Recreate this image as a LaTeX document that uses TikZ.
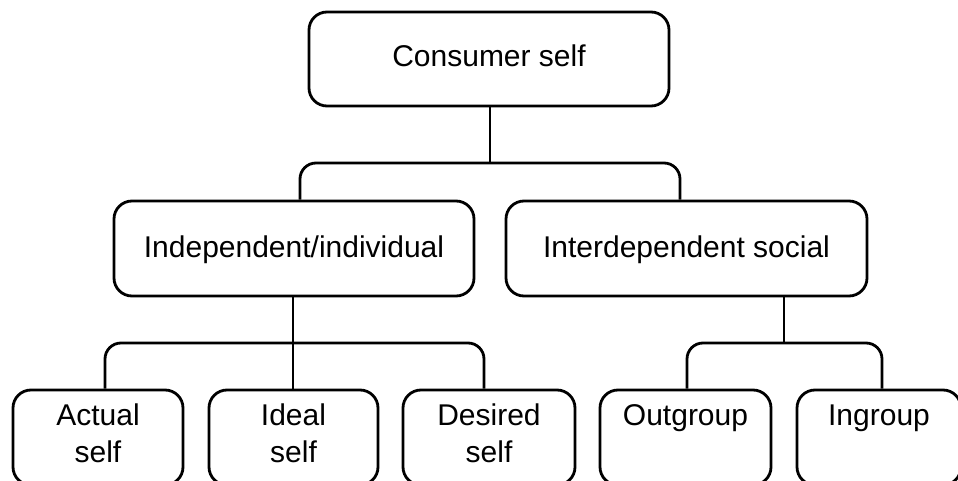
\documentclass[tikz,border=0pt]{standalone}
\usepackage{fontspec}
\setmainfont{Liberation Sans}
\begin{document}
\begin{tikzpicture}[
  x=1pt, y=-1pt,
  box/.style={draw=black, line width=2.8pt, rounded corners=18pt,
    inner xsep=0pt, inner ysep=0pt, align=center,
    font=\fontsize{30}{37}\selectfont},
  upper/.style={box, minimum height=95pt, text height=56pt, text depth=39pt},
  lower/.style={box, minimum height=95pt, text height=35pt, text depth=60pt},
  conn/.style={draw=black, line width=2.8pt},
  bracket/.style={conn, rounded corners=16pt},
]
\useasboundingbox (0,0) rectangle (958,481);
\clip (0,0) rectangle (958,481);

% level 0
\node[upper, minimum width=360pt, minimum height=94pt, text height=55pt] (top) at (489,59) {Consumer self};

% level 1
\node[upper, minimum width=360pt] (indep) at (294,248.5) {Independent/individual};
\node[upper, minimum width=361pt] (inter) at (686.5,248.5) {Interdependent social};

% level 2
\node[lower, minimum width=170pt] (actual)   at (98,437.5)    {\begin{tabular}[t]{@{}c@{}}Actual\\self\end{tabular}};
\node[lower, minimum width=169pt] (ideal)    at (293.5,437.5) {\begin{tabular}[t]{@{}c@{}}Ideal\\self\end{tabular}};
\node[lower, minimum width=172pt] (desired)  at (489,437.5)   {\begin{tabular}[t]{@{}c@{}}Desired\\self\end{tabular}};
\node[lower, minimum width=171pt] (outgroup) at (685.5,437.5) {Outgroup};
\node[lower, minimum width=164pt] (ingroup)  at (879,437.5)   {Ingroup};

% junctions and leg positions
\coordinate (hubA) at (490,163);
\coordinate (legA1) at (300,0);
\coordinate (legA2) at (680,0);
\coordinate (hubB) at (293,343);
\coordinate (legB1) at (105,0);
\coordinate (legB2) at (484,0);
\coordinate (hubC) at (784,343);
\coordinate (legC1) at (687,0);
\coordinate (legC2) at (882,0);

% consumer self -> two kinds of self
\draw[conn] (top.south -| hubA) -- (hubA);
\draw[bracket] (indep.north -| legA1) |- (hubA) -| (inter.north -| legA2);

% independent self -> actual, ideal, desired
\draw[conn] (indep.south -| hubB) -- (ideal.north -| hubB);
\draw[bracket] (actual.north -| legB1) |- (hubB) -| (desired.north -| legB2);

% interdependent self -> outgroup, ingroup
\draw[conn] (inter.south -| hubC) -- (hubC);
\draw[bracket] (outgroup.north -| legC1) |- (hubC) -| (ingroup.north -| legC2);
\end{tikzpicture}
\end{document}
